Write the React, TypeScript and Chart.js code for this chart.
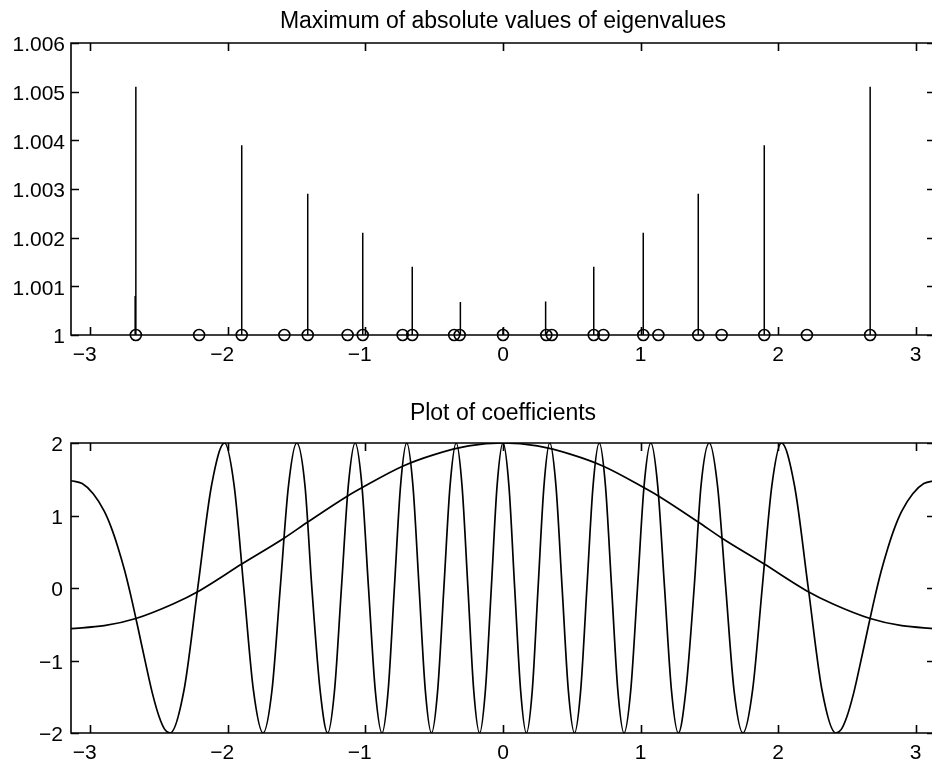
import React, { useEffect, useRef } from 'react';
import { Chart, registerables } from 'chart.js';

Chart.register(...registerables);

// ---- axis ticks and titles ----
const X_TICKS = [-3, -2, -1, 0, 1, 2, 3];
const TOP_Y_TICKS = [1, 1.001, 1.002, 1.003, 1.004, 1.005, 1.006];
const BOTTOM_Y_TICKS = [-2, -1, 0, 1, 2];
const TOP_TITLE = 'Maximum of absolute values of eigenvalues';
const BOTTOM_TITLE = 'Plot of coefficients';

// ---- top panel: stems (location, peak magnitude) ----
const stemX = [-2.675, -2.67, -1.9, -1.42, -1.02, -0.66, -0.31, 0, 0.31, 0.66, 1.02, 1.42, 1.9, 2.67];
const stemTop = [1.0008, 1.0051, 1.0039, 1.0029, 1.0021, 1.0014, 1.00068, 1.00015, 1.00069, 1.0014, 1.0021, 1.0029, 1.0039, 1.0051];

// ---- top panel: node markers on the baseline ----
const nodeX = [
  -2.67, -2.21, -1.9, -1.59, -1.42, -1.13, -1.02, -0.73, -0.66, -0.355, -0.315, 0,
  0.315, 0.355, 0.66, 0.73, 1.02, 1.13, 1.42, 1.59, 1.9, 2.21, 2.67,
];
const nodeLevel = 1;

// ---- bottom panel: slowly varying coefficient ----
const slowX = [
  -3.1416, -2.9, -2.67, -2.4, -2.21, -1.9, -1.59, -1.42, -1.13, -1.02, -0.73, -0.5, -0.25, 0,
  0.25, 0.5, 0.73, 1.02, 1.13, 1.42, 1.59, 1.9, 2.21, 2.4, 2.67, 2.9, 3.1416,
];
const slowY = [
  -0.56, -0.52, -0.42, -0.22, -0.04, 0.33, 0.69, 0.91, 1.27, 1.39, 1.68, 1.84, 1.96, 2.0,
  1.96, 1.84, 1.68, 1.39, 1.27, 0.91, 0.69, 0.33, -0.04, -0.22, -0.42, -0.52, -0.56,
];

// ---- bottom panel: fast oscillating coefficient ----
const fastX = [
  -3.1416, -3.06, -2.98, -2.9, -2.85, -2.8, -2.75, -2.7, -2.65, -2.6, -2.55, -2.5, -2.46, -2.42,
  -2.32, -2.22, -2.12, -2.025,
  -1.955, -1.885, -1.815, -1.745,
  -1.68, -1.62, -1.56, -1.5,
  -1.44, -1.39, -1.33, -1.275,
  -1.225, -1.175, -1.125, -1.075,
  -1.026, -0.978, -0.929, -0.88,
  -0.835, -0.79, -0.745, -0.7,
  -0.655, -0.61, -0.565, -0.52,
  -0.475, -0.43, -0.385, -0.34,
  -0.298, -0.255, -0.213, -0.17,
  -0.128, -0.085, -0.043, 0,
  0.043, 0.085, 0.128, 0.17,
  0.213, 0.255, 0.298, 0.34,
  0.385, 0.43, 0.475, 0.52,
  0.565, 0.61, 0.655, 0.7,
  0.745, 0.79, 0.835, 0.88,
  0.929, 0.978, 1.026, 1.075,
  1.125, 1.175, 1.225, 1.275,
  1.33, 1.39, 1.44, 1.5,
  1.56, 1.62, 1.68, 1.745,
  1.815, 1.885, 1.955, 2.025,
  2.12, 2.22, 2.32, 2.42,
  2.46, 2.5, 2.55, 2.6, 2.65, 2.7, 2.75, 2.8, 2.85, 2.9, 2.98, 3.06, 3.1416,
];
const fastY = [
  1.48, 1.44, 1.3, 1.06, 0.84, 0.56, 0.23, -0.16, -0.59, -1.03, -1.45, -1.78, -1.95, -2,
  -1.41, 0, 1.41, 2,
  1.41, 0, -1.41, -2,
  -1.41, 0, 1.41, 2,
  1.41, 0, -1.41, -2,
  -1.41, 0, 1.41, 2,
  1.41, 0, -1.41, -2,
  -1.41, 0, 1.41, 2,
  1.41, 0, -1.41, -2,
  -1.41, 0, 1.41, 2,
  1.41, 0, -1.41, -2,
  -1.41, 0, 1.41, 2,
  1.41, 0, -1.41, -2,
  -1.41, 0, 1.41, 2,
  1.41, 0, -1.41, -2,
  -1.41, 0, 1.41, 2,
  1.41, 0, -1.41, -2,
  -1.41, 0, 1.41, 2,
  1.41, 0, -1.41, -2,
  -1.41, 0, 1.41, 2,
  1.41, 0, -1.41, -2,
  -1.41, 0, 1.41, 2,
  1.41, 0, -1.41, -2,
  -1.95, -1.78, -1.45, -1.03, -0.59, -0.16, 0.23, 0.56, 0.84, 1.06, 1.3, 1.44, 1.48,
];

const FONT = "'Liberation Sans', Arial, Helvetica, sans-serif";
const INK = '#000';
const CANVAS_W = 945;
const TOP_H = 380;
const BOTTOM_H = 386;

const minus = (v: number) => (v < 0 ? `\u2212${Math.abs(v)}` : String(v));
// negative x labels keep the digit on the tick, the minus sign hangs left
const fmtX = (v: number) => (v < 0 ? `${minus(v)}\u0020\u0020` : String(v));
const fmtTopY = (v: number) => (Number.isInteger(v) ? String(v) : v.toFixed(3));

// closed frame with inward tick marks on all four sides
const boxPlugin = {
  id: 'boxFrame',
  afterDraw(chart: any) {
    const { ctx, chartArea: a, scales } = chart;
    const len = 8;
    ctx.save();
    ctx.strokeStyle = INK;
    ctx.lineWidth = 1.6;
    ctx.beginPath();
    ctx.rect(a.left, a.top, a.right - a.left, a.bottom - a.top);
    for (const t of scales.x.ticks) {
      const px = Math.round(scales.x.getPixelForValue(t.value)) + 0.5;
      ctx.moveTo(px, a.bottom);
      ctx.lineTo(px, a.bottom - len);
      ctx.moveTo(px, a.top);
      ctx.lineTo(px, a.top + len);
    }
    for (const t of scales.y.ticks) {
      const py = Math.round(scales.y.getPixelForValue(t.value)) + 0.5;
      ctx.moveTo(a.left, py);
      ctx.lineTo(a.left + len, py);
      ctx.moveTo(a.right, py);
      ctx.lineTo(a.right - len, py);
    }
    ctx.stroke();
    ctx.restore();
  },
};

function xAxis(height: number) {
  return {
    type: 'linear' as const,
    min: -Math.PI,
    max: Math.PI,
    grid: { display: false, drawTicks: false },
    border: { display: false },
    ticks: {
      color: INK,
      font: { family: FONT, size: 21 },
      padding: 8,
      maxRotation: 0,
      autoSkip: false,
      callback: (v: any) => fmtX(Number(v)),
    },
    afterBuildTicks: (s: any) => {
      s.ticks = X_TICKS.map((value) => ({ value }));
    },
    afterFit: (s: any) => {
      s.height = height;
    },
  };
}

function yAxis(min: number, max: number, ticks: number[], fmt: (v: number) => string, pad: number) {
  return {
    type: 'linear' as const,
    min,
    max,
    grid: { display: false, drawTicks: false },
    border: { display: false },
    ticks: {
      color: INK,
      font: { family: FONT, size: 21 },
      padding: pad,
      labelOffset: 2.5,
      autoSkip: false,
      callback: (v: any) => fmt(Number(v)),
    },
    afterBuildTicks: (s: any) => {
      s.ticks = ticks.map((value) => ({ value }));
    },
    afterFit: (s: any) => {
      s.width = 71;
    },
  };
}

// title box spans only the plot area, so the text centres over the axes
function titleOpts(text: string, top: number, bottom: number) {
  return {
    display: true,
    fullSize: false,
    text,
    color: INK,
    font: { family: FONT, size: 23, weight: 'normal' as const },
    padding: { top, bottom },
  };
}

export default function App() {
  const topRef = useRef<HTMLCanvasElement>(null);
  const bottomRef = useRef<HTMLCanvasElement>(null);

  useEffect(() => {
    const stemData = stemX.flatMap((x, i) => [
      { x, y: nodeLevel },
      { x, y: stemTop[i] },
      { x, y: null },
    ]);

    const topChart = new Chart(topRef.current as HTMLCanvasElement, {
      type: 'line',
      data: {
        datasets: [
          {
            data: stemData as any,
            borderColor: INK,
            borderWidth: 1.5,
            pointRadius: 0,
            spanGaps: false,
            tension: 0,
          },
          {
            data: nodeX.map((x) => ({ x, y: nodeLevel })),
            showLine: false,
            pointStyle: 'circle',
            pointRadius: 5.5,
            pointBorderWidth: 1.6,
            pointBorderColor: INK,
            pointBackgroundColor: 'rgba(0,0,0,0)',
            clip: false as any,
          },
        ],
      },
      options: {
        responsive: false,
        animation: false,
        devicePixelRatio: 1,
        layout: { padding: { left: 0, right: CANVAS_W - 935, top: 0, bottom: 0 } },
        plugins: {
          legend: { display: false },
          tooltip: { enabled: false },
          title: titleOpts(TOP_TITLE, 8.2, 7.2),
        },
        scales: {
          x: xAxis(TOP_H - 335),
          y: yAxis(1, 1.006, TOP_Y_TICKS, fmtTopY, 6),
        },
      },
      plugins: [boxPlugin],
    });

    const bottomChart = new Chart(bottomRef.current as HTMLCanvasElement, {
      type: 'line',
      data: {
        datasets: [
          {
            data: slowX.map((x, i) => ({ x, y: slowY[i] })),
            borderColor: INK,
            borderWidth: 1.7,
            pointRadius: 0,
            cubicInterpolationMode: 'monotone',
          },
          {
            data: fastX.map((x, i) => ({ x, y: fastY[i] })),
            borderColor: INK,
            borderWidth: 1.7,
            pointRadius: 0,
            cubicInterpolationMode: 'monotone',
          },
        ],
      },
      options: {
        responsive: false,
        animation: false,
        devicePixelRatio: 1,
        layout: { padding: { left: 0, right: CANVAS_W - 935, top: 0, bottom: 0 } },
        plugins: {
          legend: { display: false },
          tooltip: { enabled: false },
          title: titleOpts(BOTTOM_TITLE, 19.7, 15.7),
        },
        scales: {
          x: xAxis(BOTTOM_H - 353),
          y: yAxis(-2, 2, BOTTOM_Y_TICKS, minus, 8),
        },
      },
      plugins: [boxPlugin],
    });

    return () => {
      topChart.destroy();
      bottomChart.destroy();
    };
  }, []);

  return (
    <div
      style={{
        position: 'fixed',
        left: 0,
        top: 0,
        width: 932,
        height: 766,
        overflow: 'hidden',
        background: '#fff',
      }}
    >
      <canvas
        ref={topRef}
        width={CANVAS_W}
        height={TOP_H}
        style={{ position: 'absolute', left: 0, top: 0, width: CANVAS_W, height: TOP_H }}
      />
      <canvas
        ref={bottomRef}
        width={CANVAS_W}
        height={BOTTOM_H}
        style={{ position: 'absolute', left: 0, top: TOP_H, width: CANVAS_W, height: BOTTOM_H }}
      />
    </div>
  );
}
